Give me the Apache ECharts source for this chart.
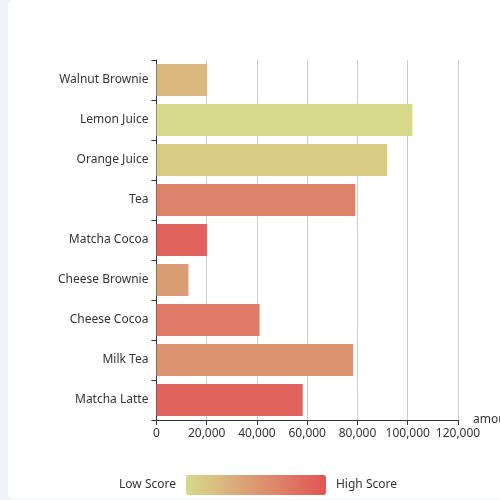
<!DOCTYPE html>
<html>
<head>
<meta charset="utf-8" />
<title>dataset encode</title>
<script src="https://cdn.jsdelivr.net/npm/echarts@6/dist/echarts.min.js"></script>
<style>
  html, body { margin: 0; height: 100%; overflow: hidden; background: #f2f3f8; }
  #card { position: absolute; left: 8px; top: 0; width: 520px; height: 499px; background: #fff; border-radius: 6px; overflow: hidden; }
  #container { width: 500px; height: 500px; }
</style>
</head>
<body>
<div id="card"><div id="container"></div></div>
<script type="text/javascript">
  var products = ['Matcha Latte', 'Milk Tea', 'Cheese Cocoa', 'Cheese Brownie', 'Matcha Cocoa', 'Tea', 'Orange Juice', 'Lemon Juice', 'Walnut Brownie'];
  var scores = [89.3, 57.1, 74.4, 50.1, 89.7, 68.1, 19.6, 10.6, 32.7];
  var amounts = [58212, 78254, 41032, 12755, 20145, 79146, 91852, 101852, 20112];

  var source = [['score', 'amount', 'product']];
  for (var i = 0; i < products.length; i++) {
    source.push([scores[i], amounts[i], products[i]]);
  }

  var font = 'Microsoft YaHei, Noto Sans, sans-serif';
  var myChart = echarts.init(document.getElementById('container'));
  var option = {
    textStyle: { fontFamily: font },
    dataset: { source: source },
    grid: { left: '10%', right: '10%', top: 60, bottom: 60, containLabel: true },
    xAxis: {
      name: 'amount',
      nameGap: 15,
      nameTextStyle: { color: '#333', fontSize: 12, fontFamily: font },
      max: 120000,
      interval: 20000,
      axisLine: { show: true, lineStyle: { color: '#333' } },
      axisTick: { show: true, lineStyle: { color: '#333' } },
      axisLabel: { color: '#333', fontSize: 12, fontFamily: font },
      splitLine: { show: true, lineStyle: { color: '#ccc' } }
    },
    yAxis: {
      type: 'category',
      axisLine: { show: true, lineStyle: { color: '#333' } },
      axisTick: { show: true, lineStyle: { color: '#333' } },
      axisLabel: { color: '#333', fontSize: 12, fontFamily: font },
      splitLine: { show: false }
    },
    visualMap: {
      orient: 'horizontal',
      left: 'center',
      bottom: 0,
      padding: 5,
      itemWidth: 20,
      itemHeight: 140,
      borderRadius: 0,
      min: 10,
      max: 100,
      text: ['High Score', 'Low Score'],
      textStyle: { color: '#333', fontFamily: font },
      dimension: 0,
      inRange: { color: ['#D7DA8B', '#E15457'] }
    },
    series: [{
      type: 'bar',
      barCategoryGap: '20%',
      itemStyle: { borderRadius: 0 },
      encode: { x: 'amount', y: 'product' }
    }]
  };
  myChart.setOption(option);
</script>
</body>
</html>
